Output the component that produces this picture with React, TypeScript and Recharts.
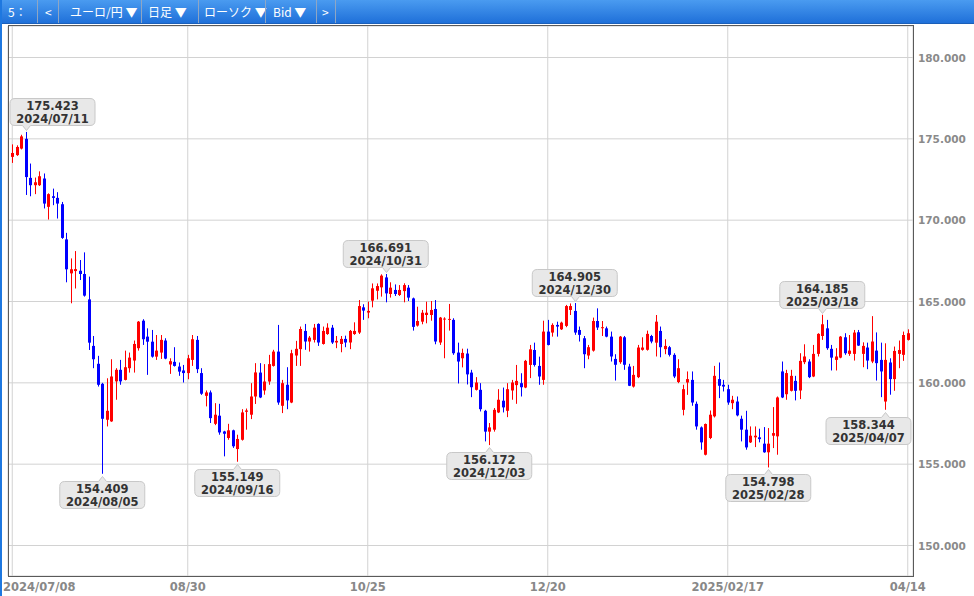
import { ComposedChart, Bar, XAxis, YAxis, CartesianGrid, ReferenceDot } from "recharts";

// EUR/JPY daily candles, 2024/07/08 - 2025/04/14 (200 bars)
const OPEN = [
  173.89, 174.0, 174.4, 175.0, 172.6, 172.15, 172.15, 172.56, 170.82, 171.47,
  171.37, 170.98, 168.82, 166.73, 166.87, 166.89, 166.69, 165.13, 162.27, 161.17,
  159.94, 157.73, 157.63, 160.09, 160.8, 160.18, 160.9, 161.37, 162.13, 163.82,
  162.84, 162.53, 161.61, 161.86, 162.6, 161.13, 161.29, 161.0, 160.76, 160.6,
  161.41, 162.64, 160.6, 159.2, 159.41, 157.48, 157.98, 157.01, 156.61, 157.08,
  155.93, 156.5, 158.22, 158.04, 159.16, 160.63, 159.53, 160.08, 161.04, 161.92,
  158.59, 159.88, 158.79, 161.68, 162.07, 163.19, 162.54, 162.64, 163.62, 162.39,
  163.0, 163.39, 162.48, 162.39, 162.7, 162.48, 163.0, 163.09, 164.64, 164.32,
  165.05, 165.66, 165.87, 166.48, 165.46, 165.71, 165.4, 165.64, 165.85, 165.19,
  163.52, 163.76, 164.17, 164.17, 164.54, 162.48, 163.92, 163.88, 163.87, 161.86,
  161.51, 161.8, 160.63, 159.57, 159.57, 158.28, 157.0, 157.12, 158.18, 158.9,
  158.28, 159.53, 159.86, 159.98, 159.71, 161.1, 162.02, 161.04, 160.18, 163.15,
  163.09, 163.56, 163.29, 163.5, 164.48, 164.42, 163.25, 162.74, 161.68, 161.98,
  163.8, 163.38, 163.35, 162.84, 161.47, 161.27, 162.8, 161.0, 159.77, 160.35,
  162.03, 162.03, 162.88, 162.47, 163.19, 162.07, 162.19, 161.72, 160.05, 158.34,
  160.02, 160.18, 158.71, 157.26, 155.58, 156.61, 157.94, 160.23, 159.88, 159.61,
  158.75, 158.85, 157.79, 157.12, 156.34, 156.65, 156.65, 156.26, 155.73, 156.75,
  156.71, 160.7, 159.3, 159.51, 160.12, 159.53, 161.27, 161.31, 160.39, 161.78,
  162.88, 163.35, 162.09, 161.41, 161.55, 162.8, 161.78, 161.78, 163.11, 161.78,
  162.17, 161.31, 161.98, 161.41, 158.85, 161.25, 160.23, 161.78, 161.72, 162.64,
];

const HIGH = [
  174.66, 174.6, 175.25, 175.423, 173.48, 172.62, 173.0, 172.87, 171.65, 171.94,
  171.72, 171.12, 169.22, 167.65, 168.1, 167.55, 168.02, 166.53, 162.88, 161.66,
  160.0, 160.28, 161.45, 160.9, 161.41, 161.98, 161.86, 162.6, 163.8, 163.91,
  163.35, 163.25, 162.94, 162.94, 162.74, 161.51, 162.19, 161.25, 161.1, 161.72,
  162.94, 162.88, 160.9, 159.53, 159.53, 158.75, 158.71, 157.05, 157.48, 157.12,
  156.81, 158.38, 158.42, 159.98, 161.21, 161.21, 161.15, 161.72, 162.03, 163.56,
  160.18, 160.96, 162.03, 162.58, 163.46, 163.62, 162.88, 163.62, 163.66, 163.46,
  163.66, 163.56, 162.88, 162.88, 162.9, 163.25, 163.72, 165.09, 164.83, 164.99,
  166.11, 166.11, 166.67, 166.691, 166.18, 166.05, 166.01, 166.12, 166.01, 165.24,
  164.68, 164.48, 164.99, 165.03, 165.09, 164.05, 164.03, 164.85, 163.97, 162.47,
  162.1, 162.1, 160.8, 160.35, 159.98, 158.34, 157.53, 158.45, 159.61, 159.71,
  159.98, 160.18, 161.1, 160.59, 161.41, 162.33, 162.47, 161.61, 163.82, 163.87,
  163.66, 163.76, 163.76, 164.79, 164.88, 164.905, 163.46, 162.88, 162.33, 164.01,
  164.58, 163.8, 163.46, 163.15, 161.76, 162.88, 162.88, 161.17, 161.04, 162.33,
  162.8, 163.21, 162.95, 164.17, 163.46, 162.68, 162.27, 161.82, 161.45, 159.88,
  160.7, 160.7, 158.85, 157.32, 157.5, 158.3, 161.04, 161.25, 160.18, 159.88,
  159.2, 159.16, 157.98, 158.28, 157.32, 157.32, 157.18, 157.28, 157.22, 158.51,
  159.16, 161.31, 160.8, 160.8, 160.43, 161.82, 162.37, 161.45, 162.33, 163.05,
  164.185, 163.87, 162.33, 162.13, 162.88, 163.05, 162.94, 163.25, 163.25, 162.49,
  162.47, 164.1, 163.1, 162.47, 162.43, 161.51, 162.23, 162.6, 163.15, 163.29,
];

const LOW = [
  173.52, 173.95, 174.35, 171.55, 171.47, 171.6, 172.1, 170.72, 170.04, 170.92,
  170.1, 168.85, 166.18, 164.89, 165.8, 166.32, 165.3, 162.02, 160.9, 159.77,
  154.409, 157.32, 157.6, 158.96, 159.88, 160.15, 160.63, 160.63, 161.98, 162.33,
  160.49, 161.55, 161.41, 161.47, 161.45, 160.55, 161.0, 160.43, 160.02, 160.22,
  161.04, 160.6, 159.26, 158.55, 157.53, 157.4, 156.81, 155.48, 156.5, 156.0,
  155.149, 156.45, 157.12, 157.77, 158.7, 159.06, 159.27, 159.88, 161.0, 158.65,
  158.14, 158.38, 158.75, 161.04, 161.04, 162.03, 161.92, 162.48, 162.27, 162.35,
  162.95, 162.39, 162.13, 161.88, 162.19, 162.07, 162.95, 163.0, 163.87, 163.97,
  164.64, 165.13, 165.3, 164.95, 165.24, 165.34, 165.34, 164.95, 165.03, 163.21,
  163.46, 163.6, 163.66, 163.82, 162.37, 162.33, 161.51, 163.21, 161.72, 159.96,
  160.95, 159.9, 159.12, 159.53, 158.24, 156.4, 156.172, 157.0, 158.14, 158.18,
  157.89, 158.96, 158.71, 159.16, 159.67, 160.29, 161.0, 159.88, 159.88, 162.3,
  162.84, 162.84, 163.25, 163.42, 164.17, 162.95, 162.54, 160.9, 161.45, 161.92,
  163.25, 162.88, 162.8, 161.31, 160.14, 161.17, 160.8, 159.8, 159.71, 160.29,
  161.98, 161.98, 162.43, 161.62, 161.57, 161.76, 161.62, 160.29, 159.98, 158.0,
  159.26, 158.59, 157.12, 155.89, 155.54, 156.54, 157.87, 159.06, 159.47, 158.65,
  158.38, 157.94, 156.4, 155.89, 156.3, 156.05, 156.34, 155.7, 154.798, 155.99,
  155.58, 159.06, 158.96, 159.47, 158.92, 159.0, 161.15, 160.29, 160.35, 161.62,
  162.64, 162.03, 160.76, 160.76, 161.51, 161.72, 161.66, 161.37, 162.27, 160.96,
  160.84, 161.21, 160.14, 159.12, 158.344, 159.27, 159.51, 160.9, 161.35, 162.6,
];

const CLOSE = [
  174.13, 174.5, 175.15, 172.65, 172.15, 172.33, 172.7, 171.02, 171.6, 171.37,
  171.02, 168.91, 166.98, 166.98, 166.99, 166.69, 165.36, 162.47, 161.45, 159.88,
  157.79, 158.28, 160.39, 160.8, 160.09, 160.96, 161.55, 162.39, 163.76, 162.68,
  162.53, 161.61, 161.98, 162.64, 161.49, 161.33, 161.04, 160.69, 160.6, 161.51,
  162.68, 160.84, 159.33, 159.41, 157.83, 158.04, 156.95, 156.87, 157.08, 156.1,
  156.55, 158.18, 158.3, 159.16, 160.64, 159.1, 160.08, 161.15, 161.92, 158.79,
  159.98, 158.92, 161.82, 162.09, 163.31, 162.54, 162.78, 163.39, 162.48, 163.19,
  163.39, 162.48, 162.58, 162.7, 162.48, 163.19, 163.19, 164.72, 164.44, 164.42,
  165.81, 165.95, 166.59, 165.5, 165.85, 165.46, 165.71, 166.01, 165.24, 163.44,
  163.8, 164.31, 164.31, 164.48, 162.54, 164.01, 163.95, 163.93, 161.82, 161.31,
  161.84, 160.52, 159.73, 160.02, 158.38, 157.0, 157.26, 158.34, 158.96, 158.49,
  159.61, 160.02, 160.12, 159.73, 161.35, 162.06, 161.1, 160.39, 163.15, 162.33,
  163.56, 163.46, 163.7, 164.72, 164.72, 163.09, 162.95, 161.76, 162.19, 163.8,
  163.4, 163.42, 162.84, 161.62, 161.11, 162.84, 161.11, 159.82, 160.49, 162.17,
  162.17, 163.01, 162.54, 163.76, 162.19, 162.27, 161.72, 160.39, 160.9, 159.61,
  160.23, 158.79, 157.32, 156.34, 157.47, 158.04, 160.43, 159.82, 159.77, 158.79,
  158.96, 158.0, 157.12, 156.03, 156.75, 156.75, 156.54, 155.73, 156.26, 156.91,
  159.1, 159.1, 160.6, 160.43, 159.51, 161.35, 161.62, 160.35, 161.78, 163.01,
  163.6, 162.13, 161.55, 161.62, 162.84, 161.82, 161.98, 163.09, 162.29, 162.27,
  161.37, 162.54, 161.21, 160.7, 161.41, 160.23, 161.96, 162.02, 162.94, 163.05,
];

const TICK_INDEX = [0, 39, 79, 119, 159, 199];
const TICK_LABELS = ["2024/07/08", "08/30", "10/25", "12/20", "2025/02/17", "04/14"];
const Y_TICKS = [150, 155, 160, 165, 170, 175, 180];

// high / low callouts
const MARK_INDEX = [3, 20, 50, 83, 106, 125, 168, 180, 194];
const MARK_VALUE = [175.423, 154.409, 155.149, 166.691, 156.172, 164.905, 154.798, 164.185, 158.344];
const MARK_DATE = [
  "2024/07/11", "2024/08/05", "2024/09/16", "2024/10/31", "2024/12/03",
  "2024/12/30", "2025/02/28", "2025/03/18", "2025/04/07",
];
const MARK_SIDE = ["high", "low", "low", "high", "low", "high", "low", "high", "low"];

const data = OPEN.map((o, i) => ({
  i,
  o,
  c: CLOSE[i],
  h: Math.max(HIGH[i], o, CLOSE[i]),
  l: Math.min(LOW[i], o, CLOSE[i]),
}));

const FONT = "'DejaVu Sans', Verdana, sans-serif";
const UP = "#ff0000";
const DOWN = "#0000ff";

const Candle = (props: any) => {
  const { x, y, width, height, payload } = props;
  if (!payload || x == null) return null;
  const { o, h, l, c } = payload;
  const top = Math.min(y, y + height);
  const bottom = Math.max(y, y + height);
  const k = h - l > 0 ? (bottom - top) / (h - l) : 0;
  const py = (v: number) => top + (h - v) * k;
  const cx = Math.floor(x + width / 2) + 0.5;
  const color = c >= o ? UP : DOWN;
  const bTop = py(Math.max(o, c));
  const bBot = py(Math.min(o, c));
  return (
    <g>
      <line x1={cx} x2={cx} y1={top} y2={bottom} stroke={color} strokeWidth={1} />
      <rect x={cx - 1.5} y={bTop} width={3} height={Math.max(1, bBot - bTop)} fill={color} />
    </g>
  );
};

const Callout = (props: any) => {
  const { cx, cy, value, date, side } = props;
  if (cx == null || cy == null) return null;
  const w = 85;
  const hh = 27;
  const r = 5;
  const bx = Math.max(10, Math.min(cx - w / 2, 911 - w));
  const px = Math.round(cx) + 0.5;
  let by: number;
  let d: string;
  if (side === "high") {
    by = Math.round(cy - 7 - hh) + 0.5;
    const b = by + hh;
    d = `M${bx + r},${by} H${bx + w - r} Q${bx + w},${by} ${bx + w},${by + r} V${b - r} Q${bx + w},${b} ${bx + w - r},${b} H${px + 4} L${px},${b + 5} L${px - 4},${b} H${bx + r} Q${bx},${b} ${bx},${b - r} V${by + r} Q${bx},${by} ${bx + r},${by} Z`;
  } else {
    by = Math.round(cy + 7) + 0.5;
    const b = by + hh;
    d = `M${bx + r},${by} H${px - 4} L${px},${by - 5} L${px + 4},${by} H${bx + w - r} Q${bx + w},${by} ${bx + w},${by + r} V${b - r} Q${bx + w},${b} ${bx + w - r},${b} H${bx + r} Q${bx},${b} ${bx},${b - r} V${by + r} Q${bx},${by} ${bx + r},${by} Z`;
  }
  const tx = bx + w / 2;
  return (
    <g>
      <path d={d} fill="#e8e8e8" stroke="#c8c8c8" strokeWidth={1} />
      <text x={tx} y={by + 11.5} textAnchor="middle" fontSize={11.5} fontWeight={700} fill="#333" fontFamily={FONT}>
        {value.toFixed(3)}
      </text>
      <text x={tx} y={by + 24} textAnchor="middle" fontSize={11.5} fontWeight={700} fill="#333" fontFamily={FONT}>
        {date}
      </text>
    </g>
  );
};

const XTick = (props: any) => {
  const { x, payload } = props;
  const idx = TICK_INDEX.indexOf(payload.value);
  const label = idx >= 0 ? TICK_LABELS[idx] : "";
  const first = idx === 0;
  return (
    <text
      x={first ? 3 : x}
      y={591}
      textAnchor={first ? "start" : "middle"}
      fontSize={11.5}
      fontWeight={700}
      fill="#888"
      fontFamily={FONT}
    >
      {label}
    </text>
  );
};

const YTick = (props: any) => {
  const { y, payload } = props;
  return (
    <text x={918} y={y + 4} textAnchor="start" fontSize={10.5} fontWeight={700} fill="#8a8a8a" fontFamily={FONT}>
      {Number(payload.value).toFixed(3)}
    </text>
  );
};

const HEADER_ITEMS = [
  { text: "5：", x: 8 },
  { text: "<", x: 45 },
  { text: "ユーロ/円 ▼", x: 70 },
  { text: "日足 ▼", x: 148 },
  { text: "ローソク ▼", x: 204 },
  { text: "Bid ▼", x: 273 },
  { text: ">", x: 322 },
];
const HEADER_SEPARATORS = [37, 58, 141, 198, 265, 316, 335];

export default function App() {
  return (
    <div
      style={{
        position: "fixed",
        left: 0,
        top: 0,
        width: 974,
        height: 596,
        background: "#fff",
        overflow: "hidden",
      }}
    >
      <ComposedChart
        width={974}
        height={596}
        data={data}
        margin={{ top: 26, right: 6, bottom: 0, left: 8 }}
        style={{ position: "absolute", left: 0, top: 0 }}
      >
        <CartesianGrid stroke="#d2d2d2" strokeWidth={1} />
        <XAxis
          dataKey="i"
          type="category"
          ticks={TICK_INDEX}
          interval={0}
          height={20}
          padding={{ left: 2, right: 3 }}
          tickLine={false}
          axisLine={false}
          tick={<XTick />}
        />
        <YAxis
          orientation="right"
          width={55}
          domain={[148.125, 181.9365]}
          ticks={Y_TICKS}
          allowDataOverflow
          tickLine={false}
          axisLine={false}
          tick={<YTick />}
        />
        <Bar
          dataKey={(d: any) => [d.l, d.h]}
          barSize={3}
          isAnimationActive={false}
          shape={(p: any) => <Candle {...p} />}
        />
        {MARK_INDEX.map((mi, k) => (
          <ReferenceDot
            key={mi}
            x={mi}
            y={MARK_VALUE[k]}
            r={0}
            ifOverflow="visible"
            shape={(p: any) => (
              <Callout {...p} value={MARK_VALUE[k]} date={MARK_DATE[k]} side={MARK_SIDE[k]} />
            )}
          />
        ))}
      </ComposedChart>

      {/* plot frame */}
      <div
        style={{
          position: "absolute",
          left: 8,
          top: 25,
          width: 904,
          height: 550,
          border: "1px solid #5a5a5a",
          pointerEvents: "none",
        }}
      />

      {/* toolbar */}
      <div
        style={{
          position: "absolute",
          left: 0,
          top: 0,
          width: 974,
          height: 23,
          background: "linear-gradient(#4a9bf0, #1f70d9)",
          borderBottom: "1px solid #1b5fb8",
          fontFamily: "'Noto Sans CJK JP', sans-serif",
          fontSize: 12,
          fontWeight: 400,
          color: "#fff",
        }}
      >
        {HEADER_ITEMS.map((it) => (
          <span key={it.text} style={{ position: "absolute", left: it.x, top: 3, whiteSpace: "pre" }}>
            {it.text}
          </span>
        ))}
        {HEADER_SEPARATORS.map((sx) => (
          <div
            key={sx}
            style={{ position: "absolute", left: sx, top: 0, width: 1, height: 23, background: "#8ea6c4" }}
          />
        ))}
      </div>

      {/* left window edge */}
      <div style={{ position: "absolute", left: 0, top: 0, width: 2, height: 596, background: "#1e78e0" }} />
    </div>
  );
}
